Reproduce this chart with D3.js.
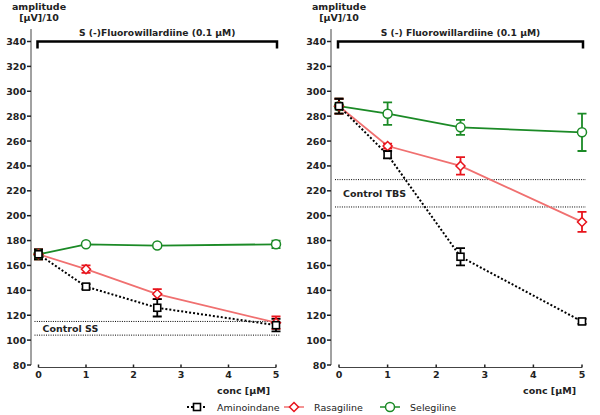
<!DOCTYPE html>
<html><head><meta charset="utf-8">
<script src="https://cdn.jsdelivr.net/npm/d3@7"></script>
<style>body{margin:0;background:#fff}svg{display:block}text{font-family:"DejaVu Sans",Verdana,sans-serif}</style>
</head><body><svg id="c" width="600" height="415"></svg>
<script>
const conc = [0, 1, 2.5, 5];
const xTicks = [0, 1, 2, 3, 4, 5];
const yTicks = [80, 100, 120, 140, 160, 180, 200, 220, 240, 260, 280, 300, 320, 340];
const seriesNames = ["Aminoindane", "Rasagiline", "Selegiline"];
// Left panel (Control SS)
const leftAmino = [169, 143, 126, 112];
const leftAminoErr = [4, 2, 7, 5];
const leftRasa = [169, 157, 137, 114];
const leftRasaErr = [4, 3, 4, 5];
const leftSele = [169, 177, 176, 177];
const leftSeleErr = [4, 1, 1, 3];
const leftControl = [115, 104];
const leftTitle = "S (-)Fluorowillardiine (0.1 μM)";
const leftControlLabel = "Control SS";
// Right panel (Control TBS)
const rightAmino = [288, 249, 167, 115];
const rightAminoErr = [6, 3, 7, 2];
const rightRasa = [288, 256, 240, 195];
const rightRasaErr = [6, 2, 7, 8];
const rightSele = [288, 282, 271, 267];
const rightSeleErr = [6, 9, 6, 15];
const rightControl = [229, 207];
const rightTitle = "S (-) Fluorowillardiine  (0.1 μM)";
const rightControlLabel = "Control TBS";

const svg = d3.select("#c");
const colors = {Aminoindane: "#000", Rasagiline: "#e8141c", Selegiline: "#1b8a26"};
const lineColors = {Aminoindane: "#000", Rasagiline: "#f07070", Selegiline: "#1b8a26"};
const B = "bold";

function txt(g, x, y, s, size, anchor, weight) {
  return g.append("text").attr("x", x).attr("y", y).attr("text-anchor", anchor || "start")
    .attr("font-size", size).style("font-weight", weight || B).attr("fill", "#222").text(s);
}

function panel(o) {
  const x = d3.scaleLinear().domain([0, 5]).range([o.x0, o.x1]);
  const y = d3.scaleLinear().domain([80, 340]).range([365, 41.5]);
  const g = svg.append("g");
  // y axis
  g.append("line").attr("x1", o.ax).attr("x2", o.ax).attr("y1", y(350)).attr("y2", y(80)).attr("stroke", "#444").attr("stroke-width", 1);
  yTicks.forEach(t => {
    g.append("line").attr("x1", o.ax - 4).attr("x2", o.ax).attr("y1", y(t)).attr("y2", y(t)).attr("stroke", "#222").attr("stroke-width", 1.5);
    txt(g, o.ax - 5, y(t) + 3.5, t, 9.5, "end");
  });
  // x axis
  const xa = 367.5;
  g.append("line").attr("x1", x(0)).attr("x2", x(5)).attr("y1", xa).attr("y2", xa).attr("stroke", "#444");
  xTicks.forEach(t => {
    g.append("line").attr("x1", x(t)).attr("x2", x(t)).attr("y1", xa - 3).attr("y2", xa).attr("stroke", "#222").attr("stroke-width", 1.5);
    txt(g, x(t), 378, t, 9.5, "middle");
  });
  txt(g, x(5) - 6, 394, "conc [μM]", 9.5, "end");
  // y label
  txt(g, o.ax + 8, 10, "amplitude", 9.5, "middle");
  txt(g, o.ax + 8, 21, "[μV]/10", 9.5, "middle");
  // title + bracket
  txt(g, (x(0) + x(5)) / 2, 36, o.title, 9.2, "middle");
  g.append("path").attr("d", `M${x(0)-1},${y(340)+7}V${y(340)}H${x(5)+1}V${y(340)+7}`).attr("fill", "none").attr("stroke", "#000").attr("stroke-width", 2.5);
  // control lines
  o.control.forEach(c => {
    g.append("line").attr("x1", x(0) - 4).attr("x2", x(5) + 4).attr("y1", y(c)).attr("y2", y(c)).attr("stroke", "#000").attr("stroke-width", 1).attr("stroke-dasharray", "1,1.3");
  });
  txt(g, x(0) + 4, (y(o.control[0]) + y(o.control[1])) / 2 + 4, o.controlLabel, 9.5);
  // series
  const line = d3.line().x((d, i) => x(conc[i])).y(d => y(d));
  const drawOrder = ["Selegiline", "Rasagiline", "Aminoindane"];
  drawOrder.forEach(name => {
    const s = o.series[name];
    const p = g.append("path").attr("d", line(s.v)).attr("fill", "none").attr("stroke", lineColors[name]).attr("stroke-width", name === "Aminoindane" ? 2 : 1.8);
    if (name === "Aminoindane") p.attr("stroke-dasharray", "2,2");
  });
  drawOrder.forEach(name => {
    const s = o.series[name];
    s.v.forEach((v, i) => {
      if (s.e[i] > 1.5) {
        const cx = x(conc[i]);
        g.append("path").attr("d", `M${cx},${y(v + s.e[i])}V${y(v - s.e[i])}M${cx-4.5},${y(v + s.e[i])}H${cx+4.5}M${cx-4.5},${y(v - s.e[i])}H${cx+4.5}`).attr("stroke", colors[name]).attr("stroke-width", 1.8).attr("fill", "none");
      }
    });
  });
  drawOrder.forEach(name => {
    const s = o.series[name];
    s.v.forEach((v, i) => marker(g, name, x(conc[i]), y(v)));
  });
}

function marker(g, name, cx, cy) {
  if (name === "Aminoindane") {
    g.append("rect").attr("x", cx - 3.5).attr("y", cy - 3.5).attr("width", 7).attr("height", 7).attr("fill", "#fff").attr("stroke", "#000").attr("stroke-width", 1.6);
  } else if (name === "Rasagiline") {
    g.append("path").attr("d", `M${cx},${cy-4.5}L${cx+4.5},${cy}L${cx},${cy+4.5}L${cx-4.5},${cy}Z`).attr("fill", "#fff").attr("stroke", colors[name]).attr("stroke-width", 1.5);
  } else {
    g.append("circle").attr("cx", cx).attr("cy", cy).attr("r", 4.5).attr("fill", "#fff").attr("stroke", colors[name]).attr("stroke-width", 1.5);
  }
}

panel({x0: 38.5, x1: 276, ax: 31, title: leftTitle, control: leftControl, controlLabel: leftControlLabel,
  series: {Aminoindane: {v: leftAmino, e: leftAminoErr}, Rasagiline: {v: leftRasa, e: leftRasaErr}, Selegiline: {v: leftSele, e: leftSeleErr}}});
panel({x0: 339, x1: 582, ax: 331, title: rightTitle, control: rightControl, controlLabel: rightControlLabel,
  series: {Aminoindane: {v: rightAmino, e: rightAminoErr}, Rasagiline: {v: rightRasa, e: rightRasaErr}, Selegiline: {v: rightSele, e: rightSeleErr}}});

// legend
const lg = svg.append("g");
const legX = [187, 284, 380];
seriesNames.forEach((name, i) => {
  const lx = legX[i], ly = 407;
  const l = lg.append("line").attr("x1", lx).attr("x2", lx + 20).attr("y1", ly).attr("y2", ly).attr("stroke", lineColors[name]).attr("stroke-width", name === "Aminoindane" ? 2 : 1.5);
  if (name === "Aminoindane") l.attr("stroke-dasharray", "2,2");
  marker(lg, name, lx + 10, ly);
  txt(lg, lx + 30, ly + 4, name, 9.5, "start", "normal");
});
</script></body></html>
